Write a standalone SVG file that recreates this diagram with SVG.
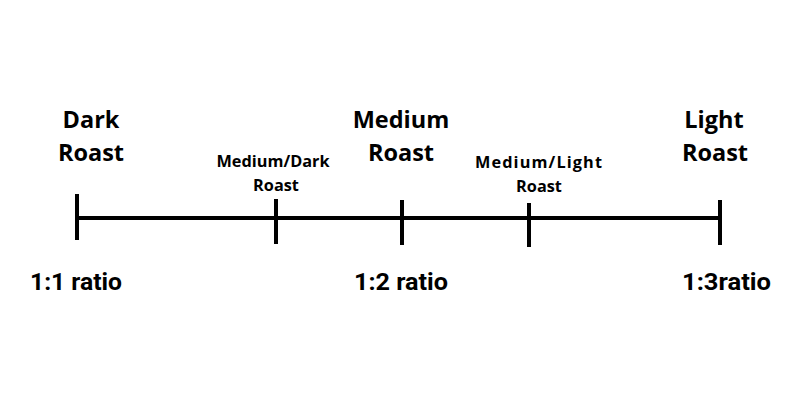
<svg xmlns="http://www.w3.org/2000/svg" width="800" height="400" viewBox="0 0 800 400">
<style>
.big{font-family:"Open Sans","Noto Sans",sans-serif;font-weight:bold;font-size:23.5px;fill:#000;text-anchor:middle}
.small{font-family:"Open Sans","Noto Sans",sans-serif;font-weight:bold;font-size:16.3px;fill:#000;text-anchor:middle}
.ratio{font-family:"Liberation Sans Narrow","Roboto","Liberation Sans",sans-serif;font-weight:bold;font-size:23px;fill:#000}
.ln{stroke:#000;stroke-width:4;fill:none}
</style>
<rect width="800" height="400" fill="#fff"/>
<g id="connectors">
<line class="ln" x1="77" y1="218" x2="720" y2="218"/>
</g>
<g id="dark">
<line class="ln" x1="77" y1="194" x2="77" y2="240"/>
<text class="big" x="91" y="128">Dark</text>
<text class="big" x="91" y="161">Roast</text>
<text class="ratio" x="30" y="290" textLength="92" lengthAdjust="spacingAndGlyphs">1:1 ratio</text>
</g>
<g id="medium-dark">
<line class="ln" x1="276" y1="199" x2="276" y2="244"/>
<text class="small" x="273" y="167">Medium/Dark</text>
<text class="small" x="276" y="191">Roast</text>
</g>
<g id="medium">
<line class="ln" x1="402" y1="200" x2="402" y2="245"/>
<text class="big" x="401" y="128">Medium</text>
<text class="big" x="401" y="161">Roast</text>
<text class="ratio" x="354" y="290" textLength="94" lengthAdjust="spacingAndGlyphs">1:2 ratio</text>
</g>
<g id="medium-light">
<line class="ln" x1="529" y1="203" x2="529" y2="247"/>
<text class="small" x="538.5" y="168" textLength="127" lengthAdjust="spacing">Medium/Light</text>
<text class="small" x="539" y="192">Roast</text>
</g>
<g id="light">
<line class="ln" x1="720" y1="200" x2="720" y2="245"/>
<text class="big" x="714" y="128">Light</text>
<text class="big" x="715" y="161">Roast</text>
<text class="ratio" x="682" y="290" textLength="89" lengthAdjust="spacingAndGlyphs">1:3ratio</text>
</g>
</svg>
